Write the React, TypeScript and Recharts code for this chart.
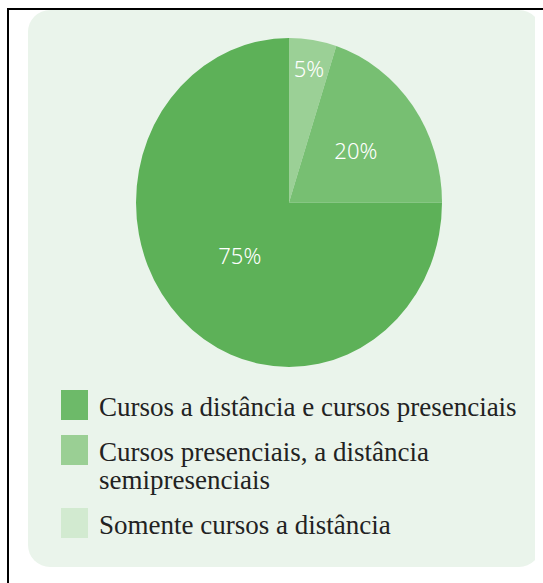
import { PieChart, Pie, Cell } from "recharts";

// Slices in drawing order, clockwise from 12 o'clock
const sliceNames = [
  "Somente cursos a distância",
  "Cursos presenciais, a distância semipresenciais",
  "Cursos a distância e cursos presenciais",
];
const sliceValues = [5, 20, 75];
const sliceColors = ["#9BD096", "#77BF72", "#5DB158"];

// Legend order (top to bottom) and its swatch colours
const legendNames = [
  "Cursos a distância e cursos presenciais",
  "Cursos presenciais, a distância semipresenciais",
  "Somente cursos a distância",
];
const legendColors = ["#6DBA69", "#9ACF94", "#D2EAD0"];

const STRETCH = 1.075; // pie is a bit taller than wide
const RADIAN = Math.PI / 180;

const data = sliceNames.map((name, i) => ({ name, value: sliceValues[i] }));

function renderLabel(props: any) {
  const { cx, cy, midAngle, outerRadius, percent, value } = props;
  const f = percent < 0.1 ? 0.83 : percent < 0.5 ? 0.54 : 0.455;
  const r = outerRadius * f;
  const x = cx + r * Math.cos(-midAngle * RADIAN);
  const y = cy + r * Math.sin(-midAngle * RADIAN);
  return (
    <text
      x={x}
      y={y}
      fill="#ffffff"
      textAnchor="middle"
      dominantBaseline="central"
      fontFamily="'Noto Sans', sans-serif"
      fontWeight={300}
      fontSize={22}
      transform={`translate(${x} ${y}) scale(1 ${1 / STRETCH}) translate(${-x} ${-y})`}
    >
      {`${value}%`}
    </text>
  );
}

export default function App() {
  return (
    <div style={{ position: "relative", width: 535, height: 560 }}>
      {/* frame lines (fixed so they don't make the page scroll) */}
      <div style={{ position: "fixed", left: 7, top: 8, width: 2, height: 575, background: "#000" }} />
      <div style={{ position: "fixed", left: 7, top: 8, width: 536, height: 2, background: "#000" }} />

      {/* panel */}
      <div
        style={{
          position: "absolute",
          left: 20,
          top: 2,
          width: 513,
          height: 557,
          background: "#EAF4EB",
          borderRadius: 22,
        }}
      />

      <div
        style={{
          position: "absolute",
          left: 128,
          top: 29.5,
          width: 306,
          height: 306,
          transform: `scaleY(${STRETCH})`,
          transformOrigin: "top left",
        }}
      >
        <PieChart width={306} height={306} margin={{ top: 0, right: 0, bottom: 0, left: 0 }}>
          <Pie
            data={data}
            dataKey="value"
            nameKey="name"
            cx="50%"
            cy="50%"
            outerRadius={153}
            startAngle={90}
            endAngle={-270}
            stroke="none"
            labelLine={false}
            label={renderLabel}
            isAnimationActive={false}
          >
            {data.map((d, i) => (
              <Cell key={d.name} fill={sliceColors[i]} />
            ))}
          </Pie>
        </PieChart>
      </div>

      {/* legend */}
      <div
        style={{
          position: "absolute",
          left: 53,
          top: 382,
          display: "flex",
          flexDirection: "column",
          gap: 14,
          fontFamily: "'Liberation Serif', serif",
          fontSize: 27,
          lineHeight: "28px",
          color: "#222",
        }}
      >
        {legendNames.map((name, i) => (
          <div key={name} style={{ display: "flex", alignItems: "flex-start" }}>
            <div style={{ width: 27, height: 30, background: legendColors[i], flexShrink: 0 }} />
            <div style={{ marginLeft: 11, paddingTop: 3, width: 432 }}>{name}</div>
          </div>
        ))}
      </div>
    </div>
  );
}
